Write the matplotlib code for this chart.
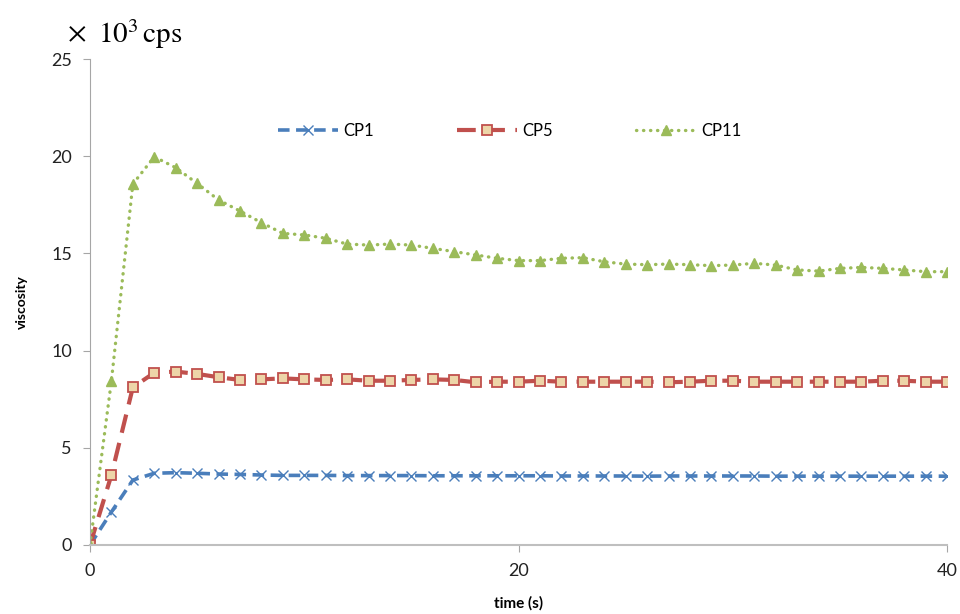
import matplotlib
matplotlib.use("Agg")
import matplotlib.pyplot as plt
import numpy as np

# --- Daten ---
t = np.arange(0, 41)

cp1 = [0, 1.7, 3.34, 3.69, 3.72, 3.69, 3.65, 3.63, 3.6, 3.58, 3.58,
       3.58, 3.57, 3.57, 3.57, 3.57, 3.56, 3.56, 3.56, 3.56, 3.56,
       3.56, 3.55, 3.55, 3.55, 3.55, 3.54, 3.55, 3.55, 3.55, 3.55,
       3.55, 3.54, 3.54, 3.54, 3.54, 3.54, 3.54, 3.54, 3.54, 3.54]

cp5 = [0, 3.6, 8.11, 8.86, 8.92, 8.8, 8.63, 8.49, 8.52, 8.57, 8.52,
       8.49, 8.52, 8.45, 8.45, 8.49, 8.52, 8.49, 8.37, 8.4, 8.4,
       8.45, 8.4, 8.4, 8.4, 8.4, 8.4, 8.37, 8.4, 8.45, 8.45,
       8.4, 8.4, 8.4, 8.4, 8.4, 8.4, 8.45, 8.45, 8.4, 8.4]

cp11 = [0, 8.45, 18.57, 19.97, 19.41, 18.6, 17.75, 17.18, 16.58, 16.03, 15.95,
        15.78, 15.48, 15.43, 15.48, 15.43, 15.26, 15.09, 14.92, 14.75, 14.63,
        14.63, 14.75, 14.78, 14.57, 14.45, 14.42, 14.45, 14.42, 14.37, 14.4,
        14.49, 14.4, 14.15, 14.09, 14.23, 14.28, 14.23, 14.15, 14.06, 14.06]

labels = ["CP1", "CP5", "CP11"]

plt.rcParams["mathtext.fontset"] = "stix"

fig = plt.figure(figsize=(9.6, 6.14), dpi=100)
ax = fig.add_axes([0.09375, 0.1124, 0.8928, 0.7915])

ax.plot(t, cp1, color="#4A7EBB", lw=2.6, linestyle=(0, (3.2, 1.8)),
        marker="x", ms=7, mew=1.0, mec="#4A7EBB", label=labels[0])
ax.plot(t, cp5, color="#C0504D", lw=3.0, linestyle=(0, (4.5, 2.5)),
        marker="s", ms=7.5, mew=1.3, mec="#C0504D", mfc="#EDD5A8", label=labels[1])
ax.plot(t, cp11, color="#9BBB59", lw=2.4, linestyle=(0, (0.1, 2.0)),
        dash_capstyle="round", marker="^", ms=7.5, mec="#9BBB59",
        mfc="#9BBB59", label=labels[2])

ax.set_xlim(0, 40)
ax.set_ylim(0, 25)
ax.set_xticks([0, 20, 40])
ax.set_yticks([0, 5, 10, 15, 20, 25])

for s in ["top", "right"]:
    ax.spines[s].set_visible(False)
ax.spines["left"].set_color("#A6A6A6")
ax.spines["bottom"].set_color("#BFBFBF")
ax.spines["bottom"].set_linewidth(1.5)
ax.tick_params(axis="both", colors="#A6A6A6", labelcolor="#222222",
               length=5, labelsize=13)
ax.tick_params(axis="x", pad=8)
ax.tick_params(axis="y", pad=8)
for lab in ax.get_xticklabels() + ax.get_yticklabels():
    lab.set_family("Lato")

ax.set_xlabel("time (s)", fontsize=11, fontweight="bold", family="Lato")
ax.xaxis.set_label_coords(0.5, -0.106)
ax.set_ylabel("viscosity", fontsize=10, fontweight="bold", family="Lato")
ax.yaxis.set_label_coords(-0.072, 0.5)

leg = ax.legend(loc="center", bbox_to_anchor=(0.49, 0.852), ncol=3,
                frameon=False, fontsize=12, handlelength=3.6,
                columnspacing=5.0, handletextpad=0.3)
for txt in leg.get_texts():
    txt.set_family("Lato")

# Einheit oben links
fig.text(0.07, 0.945, r"$\times$", fontsize=21, ha="left", va="center")
fig.text(0.102, 0.945, r"$10^{3}\,\mathrm{cps}$", fontsize=21,
         ha="left", va="center")

fig.savefig("out.png", dpi=100)
